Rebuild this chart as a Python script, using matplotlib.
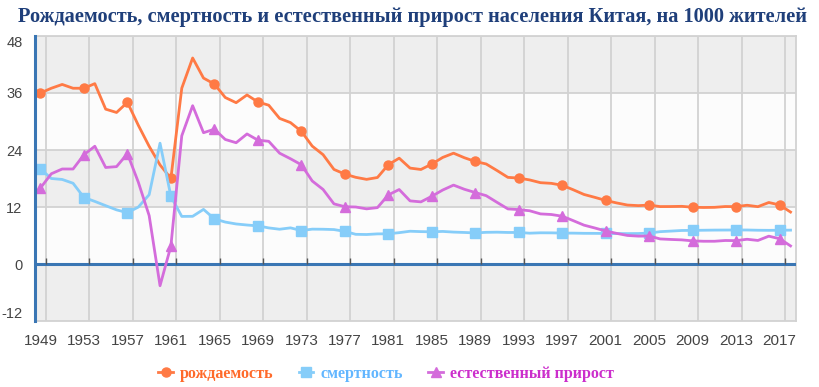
import numpy as np
import matplotlib
matplotlib.use("Agg")
import matplotlib.pyplot as plt

years = list(range(1949, 2019))

# рождаемость, на 1000 жителей
birth = [36.00, 37.00, 37.80, 37.00, 37.00, 37.97, 32.60, 31.90, 34.03, 29.22,
         24.78, 20.86, 18.02, 37.01, 43.37, 39.14, 37.88, 35.05, 33.96, 35.59,
         34.11, 33.43, 30.65, 29.77, 27.93, 24.82, 23.01, 19.91, 18.93, 18.25,
         17.82, 18.21, 20.91, 22.28, 20.19, 19.90, 21.04, 22.43, 23.33, 22.37,
         21.58, 21.06, 19.68, 18.24, 18.09, 17.70, 17.12, 16.98, 16.57, 15.64,
         14.64, 14.03, 13.38, 12.86, 12.41, 12.29, 12.40, 12.09, 12.10, 12.14,
         11.95, 11.90, 11.93, 12.10, 12.08, 12.37, 12.07, 12.95, 12.43, 10.94]

# смертность
death = [20.00, 18.00, 17.80, 17.00, 14.00, 13.18, 12.28, 11.40, 10.80, 11.98,
         14.59, 25.43, 14.24, 10.02, 10.04, 11.50, 9.50, 8.83, 8.43, 8.21,
         8.03, 7.60, 7.32, 7.61, 7.04, 7.34, 7.32, 7.25, 6.87, 6.25,
         6.21, 6.34, 6.36, 6.60, 6.90, 6.82, 6.78, 6.86, 6.72, 6.64,
         6.54, 6.67, 6.70, 6.64, 6.64, 6.49, 6.57, 6.56, 6.51, 6.50,
         6.46, 6.45, 6.43, 6.41, 6.40, 6.42, 6.51, 6.81, 6.93, 7.06,
         7.08, 7.11, 7.14, 7.15, 7.16, 7.16, 7.11, 7.09, 7.11, 7.13]

# естественный прирост
growth = [16.00, 19.00, 20.00, 20.00, 23.00, 24.79, 20.32, 20.50, 23.23, 17.24,
          10.19, -4.57, 3.78, 26.99, 33.33, 27.64, 28.38, 26.22, 25.53, 27.38,
          26.08, 25.83, 23.33, 22.16, 20.89, 17.48, 15.69, 12.66, 12.06, 12.00,
          11.61, 11.87, 14.55, 15.68, 13.29, 13.08, 14.26, 15.57, 16.61, 15.73,
          15.04, 14.39, 12.98, 11.60, 11.45, 11.21, 10.55, 10.42, 10.06, 9.14,
          8.18, 7.58, 6.95, 6.45, 6.01, 5.87, 5.89, 5.28, 5.17, 5.08,
          4.87, 4.79, 4.79, 4.95, 4.92, 5.21, 4.96, 5.86, 5.32, 3.81]

labels = ["рождаемость", "смертность", "естественный прирост"]
y_ticks = [-12, 0, 12, 24, 36, 48]
x_labels = list(range(1949, 2018, 4))

line_colors = ["#ff7a45", "#86cdf9", "#d46cdb"]
text_colors = ["#ff6a2a", "#62b6ff", "#cc2ecc"]
axis_blue = "#3a76b4"

fig = plt.figure(figsize=(8.2, 3.87), dpi=100)
ax = fig.add_axes([0.0427, 0.1705, 0.928, 0.7365])

# alternating horizontal bands
for i in range(len(y_ticks) - 1):
    lo, hi = y_ticks[i], y_ticks[i + 1]
    ax.axhspan(lo, hi, color="#eeeeee" if i % 2 == 0 else "#fcfcfc", zorder=0, lw=0)

bounds = [y + 0.5 for y in range(1949, 2018, 4)]
for b in bounds:
    ax.axvline(b, color="#d2d2d2", lw=1.3, zorder=1)
for t in y_ticks[1:]:
    ax.axhline(t, color="#d2d2d2", lw=1.3, zorder=1)

ax.axhline(0, color=axis_blue, lw=2.2, zorder=3)
ax.vlines(bounds, 0, 1.3, color="#555555", lw=1, zorder=3)

markers = ["o", "s", "^"]
sizes = [6.5, 6.5, 7.5]
handles = []
for series, c, m, s, lab in zip([birth, death, growth], line_colors, markers, sizes, labels):
    h, = ax.plot(years, series, color=c, lw=2, marker=m, markersize=s,
                 markevery=4, label=lab, zorder=4)
    handles.append(h)

ax.set_xlim(1948.5, 2018.5)
ax.set_ylim(-12, 48)

for side in ["top", "right", "bottom"]:
    ax.spines[side].set_color("#d2d2d2")
    ax.spines[side].set_linewidth(1.3)
ax.spines["left"].set_color(axis_blue)
ax.spines["left"].set_linewidth(2.2)
ax.spines["left"].set_zorder(5)

ax.set_yticks(y_ticks)
ax.set_yticklabels([str(t) for t in y_ticks], fontsize=10.5, color="#444444",
                   family=["Liberation Sans", "DejaVu Sans"])
ylabs = ax.get_yticklabels()
ylabs[0].set_va("bottom")
ylabs[-1].set_va("top")
ax.tick_params(axis="y", length=0, pad=9)

ax.set_xticks(x_labels)
ax.set_xticklabels([str(y) for y in x_labels], fontsize=11, color="#444444",
                   family=["Liberation Sans Narrow", "Liberation Sans", "DejaVu Sans"])
ax.tick_params(axis="x", length=0, pad=9)

fig.text(0.503, 0.956, "Рождаемость, смертность и естественный прирост населения Китая, на 1000 жителей",
         ha="center", va="center", fontsize=14.7, fontweight="bold", color="#1f3f7a",
         family=["Liberation Serif", "DejaVu Serif"])

leg = fig.legend(handles=handles, loc="center", bbox_to_anchor=(0.471, 0.034), ncol=3,
                 frameon=False, handlelength=0.9, handletextpad=0.45, columnspacing=1.6,
                 prop={"family": ["Liberation Serif", "DejaVu Serif"], "weight": "bold", "size": 11.5})
for t, c in zip(leg.get_texts(), text_colors):
    t.set_color(c)

fig.savefig("out.png", dpi=100)
